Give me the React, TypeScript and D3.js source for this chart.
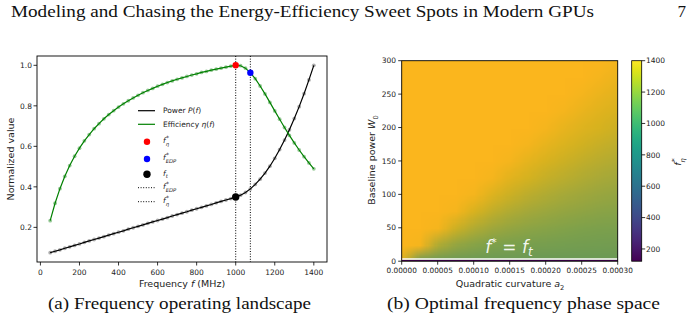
import React, { useMemo } from 'react';
import * as d3 from 'd3';

// Frequency sweep (MHz) and normalized power / efficiency curves
const freqMHz = [
  50, 75, 100, 125, 150, 175, 200, 225, 250, 275, 300, 325, 350, 375, 400, 425, 450, 475,
  500, 525, 550, 575, 600, 625, 650, 675, 700, 725, 750, 775, 800, 825, 850, 875, 900, 925,
  950, 975, 1000, 1025, 1050, 1075, 1100, 1125, 1150, 1175, 1200, 1225, 1250, 1275, 1300,
  1325, 1350, 1375, 1400,
];
const powerNorm = [
  0.075, 0.082, 0.089, 0.097, 0.104, 0.111, 0.118, 0.126, 0.133, 0.140, 0.147, 0.154, 0.162,
  0.169, 0.176, 0.183, 0.191, 0.198, 0.205, 0.212, 0.220, 0.227, 0.234, 0.241, 0.248, 0.256,
  0.263, 0.270, 0.277, 0.285, 0.292, 0.299, 0.306, 0.313, 0.321, 0.328, 0.335, 0.342, 0.350,
  0.359, 0.372, 0.390, 0.412, 0.438, 0.468, 0.502, 0.541, 0.584, 0.631, 0.682, 0.737, 0.796,
  0.860, 0.928, 1.000,
];
const efficiencyNorm = [
  0.233, 0.319, 0.391, 0.452, 0.505, 0.551, 0.591, 0.627, 0.658, 0.687, 0.712, 0.736, 0.757,
  0.776, 0.794, 0.810, 0.825, 0.839, 0.852, 0.865, 0.876, 0.886, 0.897, 0.906, 0.915, 0.923,
  0.931, 0.938, 0.945, 0.952, 0.958, 0.965, 0.970, 0.976, 0.981, 0.986, 0.991, 0.996, 1.000,
  0.998, 0.986, 0.963, 0.934, 0.898, 0.859, 0.817, 0.775, 0.734, 0.693, 0.654, 0.617, 0.582,
  0.549, 0.518, 0.489,
];
const fEtaStar = 1000;
const fEdpStar = 1075;
const fT = 1000;

const freqTicks = [0, 200, 400, 600, 800, 1000, 1200, 1400];
const valueTicks = [0.2, 0.4, 0.6, 0.8, 1.0];

// Optimal frequency f*_eta over (a2, W0); rows go from W0 = 0 upward
const curvatureA2 = [
  0, 0.000025, 0.00005, 0.000075, 0.0001, 0.000125, 0.00015, 0.000175, 0.0002, 0.000225,
  0.00025, 0.000275, 0.0003,
];
const baselineW0 = [0, 25, 50, 75, 100, 125, 150, 175, 200, 225, 250, 275, 300];
const fStarGrid = [
  [1300, 950, 950, 950, 950, 950, 950, 950, 950, 950, 950, 950, 950],
  [1400, 1379, 1184, 1112, 1074, 1050, 1034, 1022, 1014, 1007, 1001, 997, 993],
  [1400, 1400, 1379, 1253, 1184, 1141, 1112, 1090, 1074, 1061, 1050, 1041, 1034],
  [1400, 1400, 1400, 1379, 1285, 1226, 1184, 1154, 1130, 1112, 1097, 1084, 1074],
  [1400, 1400, 1400, 1400, 1379, 1305, 1253, 1214, 1184, 1161, 1141, 1125, 1112],
  [1400, 1400, 1400, 1400, 1400, 1379, 1318, 1272, 1236, 1208, 1184, 1165, 1149],
  [1400, 1400, 1400, 1400, 1400, 1400, 1379, 1327, 1285, 1253, 1226, 1203, 1184],
  [1400, 1400, 1400, 1400, 1400, 1400, 1400, 1379, 1333, 1296, 1266, 1241, 1219],
  [1400, 1400, 1400, 1400, 1400, 1400, 1400, 1400, 1379, 1338, 1305, 1277, 1253],
  [1400, 1400, 1400, 1400, 1400, 1400, 1400, 1400, 1400, 1379, 1343, 1312, 1285],
  [1400, 1400, 1400, 1400, 1400, 1400, 1400, 1400, 1400, 1400, 1379, 1346, 1318],
  [1400, 1400, 1400, 1400, 1400, 1400, 1400, 1400, 1400, 1400, 1400, 1379, 1349],
  [1400, 1400, 1400, 1400, 1400, 1400, 1400, 1400, 1400, 1400, 1400, 1400, 1379],
];
// degenerate W0 ~ 0 row and the f* = f_t contour level
const zeroRowW0 = 2.2;
const zeroRowFStar = 122;
const ftContourW0 = 3.4;

const a2Ticks = [0, 0.00005, 0.0001, 0.00015, 0.0002, 0.00025, 0.0003];
const w0Ticks = [0, 50, 100, 150, 200, 250, 300];
const cbarTicks = [200, 400, 600, 800, 1000, 1200, 1400];
const cbarRange = [122, 1400];

const SANS = "'DejaVu Sans', sans-serif";
const SERIF = "'Liberation Serif', 'DejaVu Serif', serif";
const TXT = '#222';

// f with optional superscript star and subscript, mathtext-like
function FSym({ sub, star = true, size = 7.5 }: { sub: string; star?: boolean; size?: number }) {
  return (
    <>
      <tspan fontStyle="italic">f</tspan>
      {star && (
        <tspan fontSize={size * 0.8} dx={size * 0.05} dy={-size * 0.42}>*</tspan>
      )}
      <tspan fontStyle="italic" fontSize={size * 0.7} dx={star ? -size * 0.45 : 0} dy={star ? size * 0.82 : size * 0.3}>
        {sub}
      </tspan>
    </>
  );
}

export default function App() {
  // left panel
  const xL = d3.scaleLinear().domain([-17.5, 1467.5]).range([37, 327]);
  const yL = d3.scaleLinear().domain([0.029, 1.046]).range([262, 56]);
  const powerPts = freqMHz.map((f, i) => [f, powerNorm[i]] as [number, number]);
  const effPts = freqMHz.map((f, i) => [f, efficiencyNorm[i]] as [number, number]);
  const line = d3.line<[number, number]>().x(d => xL(d[0])).y(d => yL(d[1]));
  const iEta = freqMHz.indexOf(fEtaStar);
  const iEdp = freqMHz.indexOf(fEdpStar);
  const iFt = freqMHz.indexOf(fT);

  // right panel
  const xR = d3.scaleLinear().domain([0, 0.0003]).range([401.7, 617.7]);
  const yR = d3.scaleLinear().domain([0, 300]).range([261.2, 60.7]);
  const yC = d3.scaleLinear().domain(cbarRange).range([261.2, 60.7]);
  const cbX0 = 631.7, cbX1 = 641.7;

  const heatColor = d3
    .scaleLinear<string>()
    .domain([950, 1050, 1150, 1275, 1400])
    .range(['#6a9956', '#7ea14b', '#a2a83b', '#d5b21f', '#fbb61d'])
    .interpolate(d3.interpolateRgb)
    .clamp(true);

  const heatUrl = useMemo(() => {
    const nx = curvatureA2.length, ny = baselineW0.length;
    const cv = document.createElement('canvas');
    cv.width = nx;
    cv.height = ny;
    const ctx = cv.getContext('2d')!;
    const img = ctx.createImageData(nx, ny);
    fStarGrid.forEach((row, k) =>
      row.forEach((v, j) => {
        const c = d3.rgb(heatColor(v));
        const idx = ((ny - 1 - k) * nx + j) * 4;
        img.data[idx] = c.r;
        img.data[idx + 1] = c.g;
        img.data[idx + 2] = c.b;
        img.data[idx + 3] = 255;
      })
    );
    ctx.putImageData(img, 0, 0);
    return cv.toDataURL();
  }, []);

  const cellW = xR(curvatureA2[1]) - xR(curvatureA2[0]);
  const cellH = yR(baselineW0[0]) - yR(baselineW0[1]);
  const cbStops = d3.range(0, 1.0001, 0.05);

  const legendRows = [
    { y: 110.7, kind: 'line', color: '#000' },
    { y: 124.3, kind: 'line', color: 'green' },
    { y: 141.7, kind: 'dot', color: 'red' },
    { y: 159, kind: 'dot', color: 'blue' },
    { y: 174.3, kind: 'dot', color: '#000', big: true },
    { y: 187.7, kind: 'dotted' },
    { y: 201.7, kind: 'dotted' },
  ];

  return (
    <svg width={698} height={323} style={{ position: 'absolute', left: 0, top: 0, background: '#fff' }}>
      <defs>
        <clipPath id="heatClip">
          <rect x={xR(0)} y={yR(300)} width={xR(0.0003) - xR(0)} height={yR(0) - yR(300)} />
        </clipPath>
        <linearGradient id="viridisBar" x1="0" y1="1" x2="0" y2="0">
          {cbStops.map(t => (
            <stop key={t} offset={t} stopColor={d3.interpolateViridis(t)} />
          ))}
        </linearGradient>
      </defs>

      {/* page header */}
      <text x={11} y={17} fontFamily={SERIF} fontSize={17} fill="#111" textLength={583} lengthAdjust="spacingAndGlyphs">
        Modeling and Chasing the Energy-Efficiency Sweet Spots in Modern GPUs
      </text>
      <text x={686} y={17} fontFamily={SERIF} fontSize={17} fill="#111" textAnchor="end">7</text>

      {/* ---------- left panel ---------- */}
      <g fontFamily={SANS}>
        {[fEtaStar, fEdpStar].map(f => (
          <line key={f} x1={xL(f)} x2={xL(f)} y1={56} y2={262} stroke="#000" strokeWidth={1} strokeDasharray="1,1.6" />
        ))}
        {powerPts.map((d, i) => (
          <circle key={'p' + i} cx={xL(d[0])} cy={yL(d[1])} r={1.9} fill="#777" opacity={0.6} />
        ))}
        {effPts.map((d, i) => (
          <circle key={'e' + i} cx={xL(d[0])} cy={yL(d[1])} r={1.9} fill="#55a555" opacity={0.6} />
        ))}
        <path d={line(powerPts) || ''} fill="none" stroke="#000" strokeWidth={1.2} />
        <path d={line(effPts) || ''} fill="none" stroke="green" strokeWidth={1.2} />
        <circle cx={xL(fEtaStar)} cy={yL(efficiencyNorm[iEta])} r={3.2} fill="red" />
        <circle cx={xL(fEdpStar)} cy={yL(efficiencyNorm[iEdp])} r={3.2} fill="blue" />
        <circle cx={xL(fT)} cy={yL(powerNorm[iFt])} r={3.7} fill="#000" />

        <rect x={37} y={56} width={290} height={206} fill="none" stroke="#000" strokeWidth={0.9} />
        {freqTicks.map(t => (
          <g key={t}>
            <line x1={xL(t)} x2={xL(t)} y1={262} y2={265.5} stroke="#000" strokeWidth={0.8} />
            <text x={xL(t)} y={274.5} fontSize={7.5} textAnchor="middle" fill={TXT}>{t}</text>
          </g>
        ))}
        {valueTicks.map(t => (
          <g key={t}>
            <line x1={33.5} x2={37} y1={yL(t)} y2={yL(t)} stroke="#000" strokeWidth={0.8} />
            <text x={32} y={yL(t) + 2.7} fontSize={7.5} textAnchor="end" fill={TXT}>{t.toFixed(1)}</text>
          </g>
        ))}
        <text x={182} y={287} fontSize={9.5} textAnchor="middle" fill={TXT}>
          Frequency <tspan fontStyle="italic">f</tspan> (MHz)
        </text>
        <text transform="translate(14,159) rotate(-90)" fontSize={9.5} textAnchor="middle" fill={TXT}>
          Normalized value
        </text>

        {/* legend */}
        {legendRows.map((r, i) => (
          <g key={i}>
            {r.kind === 'line' && <line x1={138} x2={155} y1={r.y} y2={r.y} stroke={r.color} strokeWidth={1.2} />}
            {r.kind === 'dot' && <circle cx={147} cy={r.y} r={r.big ? 3.7 : 3.2} fill={r.color} />}
            {r.kind === 'dotted' && (
              <line x1={138} x2={155} y1={r.y} y2={r.y} stroke="#000" strokeWidth={1} strokeDasharray="1,1.6" />
            )}
          </g>
        ))}
        <g fontSize={7.5} fill={TXT}>
          <text x={163} y={113.4}>Power <tspan fontStyle="italic">P</tspan>(<tspan fontStyle="italic">f</tspan>)</text>
          <text x={163} y={127}>Efficiency <tspan fontStyle="italic">η</tspan>(<tspan fontStyle="italic">f</tspan>)</text>
          <text x={163} y={143}><FSym sub="η" /></text>
          <text x={163} y={160.3}><FSym sub="EDP" /></text>
          <text x={163} y={175.5}><FSym sub="t" star={false} /></text>
          <text x={163} y={189}><FSym sub="EDP" /></text>
          <text x={163} y={203}><FSym sub="η" /></text>
        </g>
      </g>

      {/* ---------- right panel ---------- */}
      <g fontFamily={SANS}>
        <g clipPath="url(#heatClip)">
          <image
            href={heatUrl}
            x={xR(0) - cellW / 2}
            y={yR(300) - cellH / 2}
            width={cellW * curvatureA2.length}
            height={cellH * baselineW0.length}
            preserveAspectRatio="none"
          />
          <rect
            x={xR(0)}
            y={yR(zeroRowW0)}
            width={xR(0.0003) - xR(0)}
            height={yR(0) - yR(zeroRowW0)}
            fill={d3.interpolateViridis((zeroRowFStar - cbarRange[0]) / (cbarRange[1] - cbarRange[0]))}
          />
          <line x1={xR(0)} x2={xR(0.0003)} y1={yR(ftContourW0)} y2={yR(ftContourW0)} stroke="#fff" strokeWidth={1.4} />
        </g>
        <text x={509} y={253} fontSize={17} fill="#fff" fillOpacity={0.92} textAnchor="middle">
          <tspan fontStyle="italic">f</tspan>
          <tspan fontSize={11} dy={-7}>*</tspan>
          <tspan dy={7}> = </tspan>
          <tspan fontStyle="italic">f</tspan>
          <tspan fontStyle="italic" fontSize={12} dy={3}>t</tspan>
        </text>
        <rect x={xR(0)} y={yR(300)} width={xR(0.0003) - xR(0)} height={yR(0) - yR(300)} fill="none" stroke="#000" strokeWidth={0.9} />
        {a2Ticks.map(t => (
          <g key={t}>
            <line x1={xR(t)} x2={xR(t)} y1={yR(0)} y2={yR(0) + 3.5} stroke="#000" strokeWidth={0.8} />
            <text x={xR(t)} y={272.8} fontSize={7.3} textAnchor="middle" fill={TXT}>{t.toFixed(5)}</text>
          </g>
        ))}
        {w0Ticks.map(t => (
          <g key={t}>
            <line x1={xR(0) - 3.5} x2={xR(0)} y1={yR(t)} y2={yR(t)} stroke="#000" strokeWidth={0.8} />
            <text x={396} y={yR(t) + 2.7} fontSize={7.5} textAnchor="end" fill={TXT}>{t}</text>
          </g>
        ))}
        <text x={510} y={287} fontSize={9.5} textAnchor="middle" fill={TXT}>
          Quadratic curvature <tspan fontStyle="italic">a</tspan>
          <tspan fontSize={6.7} dy={2.5}>2</tspan>
        </text>
        <text transform="translate(375,160) rotate(-90)" fontSize={9.5} textAnchor="middle" fill={TXT}>
          Baseline power <tspan fontStyle="italic">W</tspan>
          <tspan fontSize={6.7} dy={2.5}>0</tspan>
        </text>

        {/* colorbar */}
        <rect x={cbX0} y={yC(cbarRange[1])} width={cbX1 - cbX0} height={yC(cbarRange[0]) - yC(cbarRange[1])} fill="url(#viridisBar)" />
        <rect x={cbX0} y={yC(cbarRange[1])} width={cbX1 - cbX0} height={yC(cbarRange[0]) - yC(cbarRange[1])} fill="none" stroke="#000" strokeWidth={0.8} />
        {cbarTicks.map(t => (
          <g key={t}>
            <line x1={cbX1} x2={cbX1 + 3.5} y1={yC(t)} y2={yC(t)} stroke="#000" strokeWidth={0.8} />
            <text x={646} y={yC(t) + 2.7} fontSize={7.5} fill={TXT}>{t}</text>
          </g>
        ))}
        <text transform="translate(681,162) rotate(-90)" fontSize={9.5} fill={TXT} textAnchor="middle">
          <FSym sub="η" size={9.5} />
        </text>
      </g>

      {/* captions */}
      <text x={48} y={309} fontFamily={SERIF} fontSize={16.5} fill="#111" textLength={263} lengthAdjust="spacingAndGlyphs">
        (a) Frequency operating landscape
      </text>
      <text x={387} y={309} fontFamily={SERIF} fontSize={16.5} fill="#111" textLength={273} lengthAdjust="spacingAndGlyphs">
        (b) Optimal frequency phase space
      </text>
    </svg>
  );
}
